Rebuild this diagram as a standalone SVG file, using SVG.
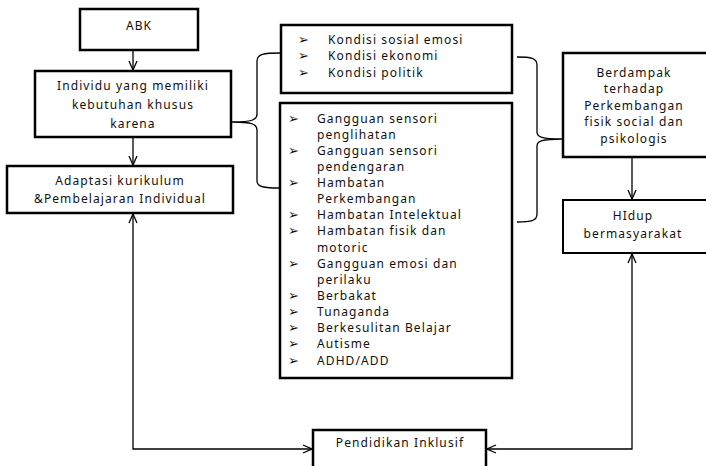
<svg xmlns="http://www.w3.org/2000/svg" width="706" height="466" viewBox="0 0 706 466">
<style>
.box{fill:#fff;stroke:#000;stroke-width:2.5}
.thin{stroke-width:2}
.t{font-family:"Noto Sans","Open Sans",sans-serif;font-size:12px;letter-spacing:1.1px;fill:#111}
.c{text-anchor:middle}
.b{font-family:"DejaVu Sans",sans-serif;font-size:13px;fill:#111}
.ln{fill:none;stroke:#000;stroke-width:1.3}
</style>
<defs>
<marker id="ah" viewBox="0 0 10 10" refX="10" refY="5" markerWidth="10" markerHeight="10" markerUnits="userSpaceOnUse" orient="auto-start-reverse">
<path d="M1,1 L10,5 L1,9" fill="none" stroke="#000" stroke-width="1.3"/>
</marker>
</defs>
<g id="connectors">
<path class="ln" d="M133,50 L133,70" marker-end="url(#ah)"/>
<path class="ln" d="M133,137 L133,165" marker-end="url(#ah)"/>
<path class="ln" d="M632,157 L632,199" marker-end="url(#ah)"/>
<path class="ln" d="M133,214 L133,449 L312,449" marker-start="url(#ah)" marker-end="url(#ah)"/>
<path class="ln" d="M632,254 L632,449 L487,449" marker-start="url(#ah)" marker-end="url(#ah)"/>
<path class="ln" d="M280,53 C264,53 257,54 257,61 L257,114 C257,120 252,122 232,122 C252,122 257,124 257,130 L257,181 C257,187 264,188 280,188"/>
<path class="ln" d="M517,57 C531,57 537,58 537,65 L537,132 C537,137 542,139 562,139 C542,139 537,141 537,146 L537,214 C537,221 531,222 517,222"/>
</g>
<g id="abk">
<rect class="box" x="80" y="9" width="118" height="41"/>
<text class="t c" x="139" y="29.5">ABK</text>
</g>
<g id="individu">
<rect class="box" x="35" y="71" width="196" height="66"/>
<text class="t c" x="133" y="89.5">Individu yang memiliki</text>
<text class="t c" x="133" y="108.5">kebutuhan khusus</text>
<text class="t c" x="133" y="127.5">karena</text>
</g>
<g id="adaptasi">
<rect class="box" x="7" y="166" width="226" height="47"/>
<text class="t c" x="120" y="184.5">Adaptasi kurikulum</text>
<text class="t c" x="120" y="202.5">&amp;Pembelajaran Individual</text>
</g>
<g id="kondisi">
<rect class="box" x="281" y="25" width="231" height="68"/>
<text class="b" x="298" y="43.5">➢</text>
<text class="b" x="298" y="60">➢</text>
<text class="b" x="298" y="76.5">➢</text>
<text class="t" x="328" y="43.5">Kondisi sosial emosi</text>
<text class="t" x="328" y="60">Kondisi ekonomi</text>
<text class="t" x="328" y="76.5">Kondisi politik</text>
</g>
<g id="gangguan">
<rect class="box" x="280" y="103" width="232" height="275"/>
<g class="b">
<text x="288" y="122.5">➢</text>
<text x="288" y="154.8">➢</text>
<text x="288" y="187">➢</text>
<text x="288" y="219.3">➢</text>
<text x="288" y="235.4">➢</text>
<text x="288" y="267.7">➢</text>
<text x="288" y="300">➢</text>
<text x="288" y="316.1">➢</text>
<text x="288" y="332.2">➢</text>
<text x="288" y="348.4">➢</text>
<text x="288" y="364.5">➢</text>
</g>
<g class="t">
<text x="317" y="122.5">Gangguan sensori</text>
<text x="317" y="138.6">penglihatan</text>
<text x="317" y="154.8">Gangguan sensori</text>
<text x="317" y="170.9">pendengaran</text>
<text x="317" y="187">Hambatan</text>
<text x="317" y="203.2">Perkembangan</text>
<text x="317" y="219.3">Hambatan Intelektual</text>
<text x="317" y="235.4">Hambatan fisik dan</text>
<text x="317" y="251.5">motoric</text>
<text x="317" y="267.7">Gangguan emosi dan</text>
<text x="317" y="283.8">perilaku</text>
<text x="317" y="300">Berbakat</text>
<text x="317" y="316.1">Tunaganda</text>
<text x="317" y="332.2">Berkesulitan Belajar</text>
<text x="317" y="348.4">Autisme</text>
<text x="317" y="364.5">ADHD/ADD</text>
</g>
</g>
<g id="berdampak">
<rect class="box" x="563" y="53" width="146" height="104"/>
<text class="t c" x="634" y="76.5">Berdampak</text>
<text class="t c" x="634" y="93">terhadap</text>
<text class="t c" x="634" y="109.5">Perkembangan</text>
<text class="t c" x="634" y="126">fisik social dan</text>
<text class="t c" x="634" y="142.5">psikologis</text>
</g>
<g id="hidup">
<rect class="box thin" x="563" y="200" width="146" height="53"/>
<text class="t c" x="633" y="219.5">HIdup</text>
<text class="t c" x="633" y="237.5">bermasyarakat</text>
</g>
<g id="pendidikan">
<rect class="box" x="313" y="430" width="173" height="42"/>
<text class="t c" x="400" y="447">Pendidikan Inklusif</text>
</g>
</svg>
